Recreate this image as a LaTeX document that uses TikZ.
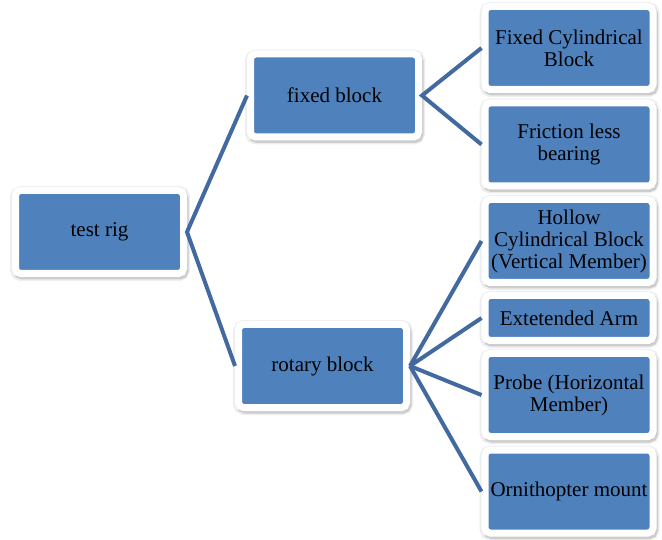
\documentclass[tikz,border=0pt]{standalone}
\usepackage{fontspec}
\setmainfont{Liberation Serif}
\newfontfamily\tnr{Liberation Serif}
\definecolor{boxblue}{RGB}{79,129,189}
\definecolor{linkblue}{RGB}{66,106,160}
\definecolor{shadowa}{RGB}{238,238,238}
\definecolor{shadowb}{RGB}{205,205,205}
\tikzset{
  box/.style={rectangle, fill=boxblue, draw=white, line width=7pt, rounded corners=5pt,
    minimum width=168pt, minimum height=83pt, inner sep=0pt, align=center,
    font=\tnr\fontsize{21}{22}\selectfont, text=black,
    preaction={draw=shadowa, fill=shadowa, line width=12pt, transform canvas={xshift=0.5pt, yshift=-1.5pt}},
    preaction={draw=shadowb, fill=shadowb, line width=7pt, transform canvas={xshift=1.5pt, yshift=-2.5pt}}},
  link/.style={draw=linkblue, line width=4pt, line join=miter}
}
\begin{document}
\begin{tikzpicture}[x=1pt,y=-1pt]
\useasboundingbox (0,0) rectangle (662,540);
\node[box] (rig) at (99.5,232) {test rig};
\node[box] (fixed) at (334.5,95.5) {fixed block};
\node[box] (rot) at (322.5,366) {rotary block};
\node[box] (fcb) at (569,48) {Fixed Cylindrical\\Block};
\node[box] (fb) at (569,144.5) {Friction less\\bearing};
\node[box] (hcb) at (569,241) {Hollow\\Cylindrical Block\\(Vertical Member)};
\node[box, minimum height=45pt] (arm) at (569,318) {Extetended Arm};
\node[box] (probe) at (569,395) {Probe (Horizontal\\Member)};
\node[box] (orn) at (569,491.5) {Ornithopter mount};
\draw[link] (fixed.west) -- (rig.east) -- (rot.west);
\draw[link] (fcb.west) -- (fixed.east) -- (fb.west);
\draw[link] (rot.east) -- (hcb.west);
\draw[link] (rot.east) -- (arm.west);
\draw[link] (rot.east) -- (probe.west);
\draw[link] (rot.east) -- (orn.west);
\end{tikzpicture}
\end{document}
